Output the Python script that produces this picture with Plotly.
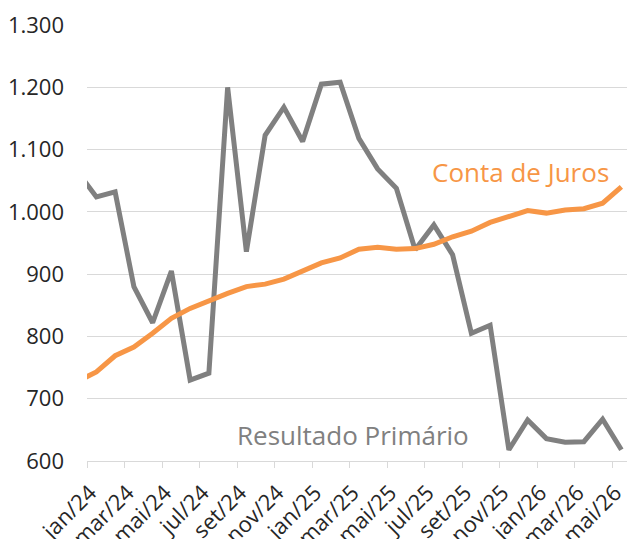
import numpy as np
import plotly.graph_objects as go

months = ["dez/23",
          "jan/24", "fev/24", "mar/24", "abr/24", "mai/24", "jun/24", "jul/24", "ago/24", "set/24", "out/24", "nov/24", "dez/24",
          "jan/25", "fev/25", "mar/25", "abr/25", "mai/25", "jun/25", "jul/25", "ago/25", "set/25", "out/25", "nov/25", "dez/25",
          "jan/26", "fev/26", "mar/26", "abr/26", "mai/26"]

resultado_primario = [1064,
                      1024, 1032, 880, 822, 905, 730, 741, 1200, 936, 1123, 1168, 1113,
                      1205, 1208, 1118, 1069, 1038, 939, 979, 931, 805, 818, 618, 666,
                      636, 630, 631, 667, 618]

conta_de_juros = [728,
                  743, 769, 783, 805, 829, 845, 858, 869, 880, 884, 892, 906,
                  918, 926, 940, 943, 940, 941, 948, 960, 969, 983, 993, 1002,
                  998, 1003, 1005, 1014, 1040]

tick_labels = ["jan/24", "mar/24", "mai/24", "jul/24", "set/24", "nov/24",
               "jan/25", "mar/25", "mai/25", "jul/25", "set/25", "nov/25",
               "jan/26", "mar/26", "mai/26"]

y_ticks = [600, 700, 800, 900, 1000, 1100, 1200, 1300]

# month index: points sit mid-month, ticks mark the start of the month
x = np.arange(len(months)) - 0.5
tick_pos = [months.index(lbl) - 1 for lbl in tick_labels]

GRAY = "#808080"
ORANGE = "#F79646"
FONT = "Open Sans"

fig = go.Figure()
fig.add_trace(go.Scatter(x=x, y=resultado_primario, mode="lines",
                         line=dict(color=GRAY, width=5), name="Resultado Primário"))
fig.add_trace(go.Scatter(x=x, y=conta_de_juros, mode="lines",
                         line=dict(color=ORANGE, width=5), name="Conta de Juros"))

fig.add_annotation(x=23.1, y=1064, text="Conta de Juros", showarrow=False,
                   font=dict(family=FONT, size=26, color=ORANGE), xanchor="center", yanchor="middle")
fig.add_annotation(x=14.2, y=642, text="Resultado Primário", showarrow=False,
                   font=dict(family=FONT, size=26, color=GRAY), xanchor="center", yanchor="middle")

fig.update_layout(
    width=627, height=539,
    margin=dict(l=87, r=0, t=25, b=78),
    paper_bgcolor="white", plot_bgcolor="white",
    showlegend=False,
    separators=",.",
    font=dict(family=FONT, color="#262626"),
)
fig.update_xaxes(range=[0, 28.8], tickvals=tick_pos, ticktext=tick_labels, tickangle=-45,
                 automargin=False,
                 showgrid=False, zeroline=False, showline=True, linecolor="#D9D9D9", linewidth=1.3,
                 ticks="outside", ticklen=6, tickcolor="#D9D9D9", tickwidth=1.3,
                 ticklabelstandoff=3, ticklabelshift=3, ticklabeloverflow="allow",
                 tickfont=dict(family=FONT, size=22, color="#262626"))
fig.update_yaxes(range=[600, 1300], tickvals=y_ticks, tickformat=",.0f",
                 automargin=False,
                 showgrid=True, gridcolor="#D9D9D9", gridwidth=1.3, zeroline=False, showline=False,
                 ticklabelstandoff=22,
                 tickfont=dict(family=FONT, size=22, color="#262626"))

fig.write_html("out.html", config={"displayModeBar": False},
               post_script="document.body.style.margin='0';document.body.style.overflow='hidden';")
